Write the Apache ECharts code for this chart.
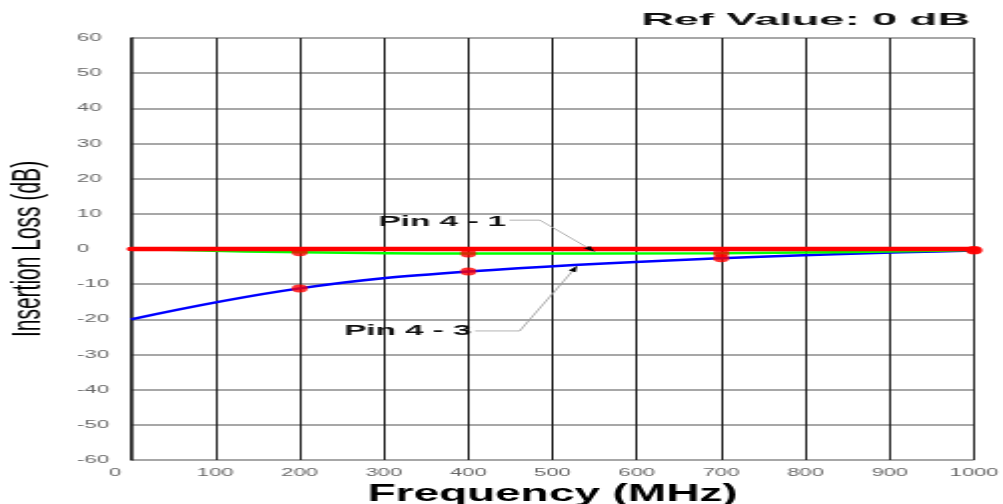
<!DOCTYPE html>
<html><head><meta charset="utf-8">
<script src="https://cdn.jsdelivr.net/npm/echarts@6/dist/echarts.min.js"></script>
<style>
html,body{margin:0;padding:0;background:#fff;overflow:hidden;}
#wrap{width:1003px;height:504px;overflow:hidden;}
#chart{width:502px;height:504px;transform:scaleX(1.998);transform-origin:0 0;}
</style></head><body>
<div id="wrap"><div id="chart"></div></div>
<script>
// ---- data ----
const freqTicks = [0, 100, 200, 300, 400, 500, 600, 700, 800, 900, 1000];
const lossTicks = [-60, -50, -40, -30, -20, -10, 0, 10, 20, 30, 40, 50, 60];
const refFreq = [0, 1000];
const refLoss = [0, 0];
const pin41Freq = [0, 200, 400, 700, 1000];
const pin41Loss = [0, -0.95, -1.3, -1.2, -0.3];
const pin43Freq = [0, 200, 400, 700, 1000];
const pin43Loss = [-20, -11.2, -6.4, -2.6, -0.4];
const titleText = 'Ref Value: 0 dB';
const xName = 'Frequency (MHz)';
const yName = 'Insertion Loss (dB)';
const label41 = 'Pin 4 - 1';
const label43 = 'Pin 4 - 3';
// annotation anchors in data units [MHz, dB]
const label41Anchor = [445, 7.7];
const leader41 = [[449, 8.2], [485, 8.2], [550, -0.8]];
const label43Anchor = [404, -23.3];
const leader43 = [[408, -23.3], [461, -23.3], [529, -4.8]];

const FONT = '"Liberation Sans", Arial, sans-serif';
const pair = (xs, ys) => xs.map((x, i) => [x, ys[i]]);
const markers = pair(pin41Freq, pin41Loss).slice(1).concat(pair(pin43Freq, pin43Loss).slice(1));

const chart = echarts.init(document.getElementById('chart'), null, {renderer: 'canvas'});
const option = {
  animation: false,
  backgroundColor: '#fff',
  grid: {left: 65.6, right: 14.5, top: 38, bottom: 44, containLabel: false, outerBoundsMode: 'none'},
  xAxis: {
    type: 'value', min: freqTicks[0], max: freqTicks[freqTicks.length - 1], interval: 100,
    name: xName, nameLocation: 'middle', nameGap: 20,
    nameTextStyle: {fontFamily: FONT, fontSize: 23, fontWeight: 'bold', color: '#000'},
    axisLine: {show: true, lineStyle: {color: '#222', width: 1.5}},
    axisTick: {show: false},
    axisLabel: {
      margin: 7, fontFamily: FONT, fontSize: 11, color: '#666',
      formatter: v => v === freqTicks[0] ? '{first|' + v + '}' : String(v),
      rich: {first: {fontFamily: FONT, fontSize: 11, color: '#666', padding: [0, 16, 0, 0]}}
    },
    splitLine: {show: true, lineStyle: {color: '#222', width: 1}}
  },
  yAxis: {
    type: 'value', min: lossTicks[0], max: lossTicks[lossTicks.length - 1], interval: 10,
    name: yName, nameLocation: 'middle', nameGap: 41,
    nameTextStyle: {fontFamily: FONT, fontSize: 21, color: '#000'},
    axisLine: {show: true, lineStyle: {color: '#222', width: 1.5}},
    axisTick: {show: false},
    axisLabel: {margin: 27, align: 'left', fontFamily: FONT, fontSize: 11, color: '#666'},
    splitLine: {show: true, lineStyle: {color: '#8a8a8a', width: 1.5}}
  },
  series: [
    {type: 'line', name: label43, data: pair(pin43Freq, pin43Loss), smooth: 0.4, showSymbol: false,
     lineStyle: {color: '#0000ff', width: 2.5}, z: 3},
    {type: 'line', name: label41, data: pair(pin41Freq, pin41Loss), smooth: 0.4, showSymbol: false,
     lineStyle: {color: '#00ff00', width: 2.5}, z: 4},
    {type: 'line', name: 'Ref', data: pair(refFreq, refLoss), showSymbol: false, clip: false,
     lineStyle: {color: '#ff0000', width: 4.5, cap: 'round'}, z: 5},
    {type: 'scatter', name: 'points', data: markers, symbol: 'circle', symbolSize: 8,
     itemStyle: {color: '#ff0000'}, z: 6}
  ]
};
chart.setOption(option);

function px(p) { return chart.convertToPixel({gridIndex: 0}, p); }
function leaderGraphics(pts) {
  const P = pts.map(px);
  const a = P[P.length - 2], b = P[P.length - 1];
  const dx = b[0] - a[0], dy = b[1] - a[1];
  const L = Math.hypot(dx, dy), ux = dx / L, uy = dy / L;
  const hl = 6, hw = 2;
  const base = [b[0] - ux * hl, b[1] - uy * hl];
  return [
    {type: 'polyline', shape: {points: P}, style: {stroke: '#a0a0a0', lineWidth: 0.8, fill: null}, z: 20},
    {type: 'polygon', shape: {points: [b, [base[0] - uy * hw, base[1] + ux * hw], [base[0] + uy * hw, base[1] - ux * hw]]},
     style: {fill: '#000'}, z: 21}
  ];
}
function textGraphic(text, pos, size, scaleX) {
  return {type: 'text', x: pos[0], y: pos[1], scaleX: scaleX, z: 22,
    style: {text: text, font: 'bold ' + size + 'px ' + FONT, fill: '#111',
            align: 'right', verticalAlign: 'middle', textAlign: 'right', textVerticalAlign: 'middle'}};
}
const p41 = px(label41Anchor), p43 = px(label43Anchor);
chart.setOption({graphic: {elements: [
  textGraphic(titleText, [485.5, 20], 17, 1.33),
  textGraphic(label41, p41, 14, 1.19),
  textGraphic(label43, p43, 14, 1.19)
].concat(leaderGraphics(leader41), leaderGraphics(leader43))}});
</script>
</body></html>
